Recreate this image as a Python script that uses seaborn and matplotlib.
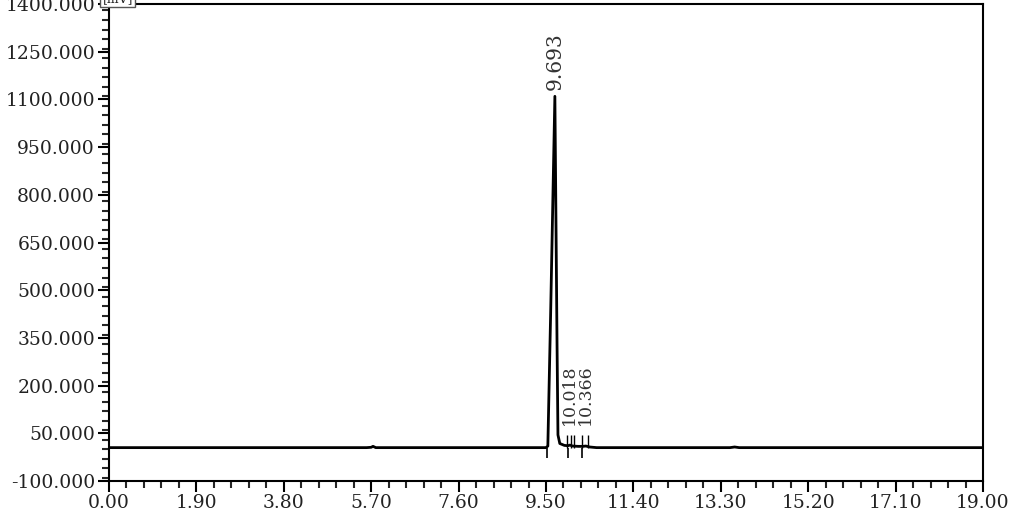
import numpy
import seaborn
import matplotlib
matplotlib.use('Agg')
import matplotlib.pyplot as plt
from matplotlib.ticker import MultipleLocator, FixedLocator
from pandas import DataFrame

# chromatogram trace (min, mV)
trace_time = [0.00, 5.60, 5.70, 5.74, 5.80, 9.50, 9.54, 9.60, 9.693,
              9.74, 9.76, 9.80, 9.90, 9.98, 10.018, 10.08, 10.20,
              10.30, 10.366, 10.45, 10.60, 13.50, 13.60, 13.70, 19.00]
trace_signal = [5, 5, 6, 9, 5, 5, 10, 420, 1110,
                330, 45, 18, 12, 11, 13, 10, 9,
                9, 10, 7, 5, 5, 7, 5, 5]

peak_times = [9.693, 10.018, 10.366]
peak_labels = ['9.693', '10.018', '10.366']
peak_label_base = [1130, 75, 75]
peak_label_size = [14.5, 12.5, 12.5]

drop_marks = [9.52, 9.98, 10.28]
up_marks = [9.96, 10.04, 10.11, 10.28, 10.41]

x_ticks = [0.00, 1.90, 3.80, 5.70, 7.60, 9.50, 11.40, 13.30, 15.20, 17.10, 19.00]
y_ticks = [-100, 50, 200, 350, 500, 650, 800, 950, 1100, 1250, 1400]


def create_plot():
    seaborn.set_style('ticks')
    plt.rcParams['font.family'] = ['DejaVu Serif']

    fig, ax = plt.subplots(figsize=(10.24, 5.15), dpi=100)
    fig.subplots_adjust(left=0.1064, right=0.96, top=0.992, bottom=0.066)

    df = DataFrame({'time': trace_time, 'signal': trace_signal})
    seaborn.lineplot(data=df, x='time', y='signal', color='black',
                     linewidth=2.0, ax=ax, sort=False)

    ax.vlines(drop_marks, -27, 5, color='black', linewidth=1.2)
    ax.vlines(up_marks, 5, 45, color='black', linewidth=1.0)

    for t, lab, base, size in zip(peak_times, peak_labels, peak_label_base,
                                  peak_label_size):
        ax.text(t, base, lab, rotation=90, ha='center', va='bottom',
                fontsize=size, color='#333333')

    ax.set_xlim(0, 19)
    ax.set_ylim(-100, 1400)
    ax.xaxis.set_major_locator(FixedLocator(x_ticks))
    ax.xaxis.set_minor_locator(MultipleLocator(0.38))
    ax.yaxis.set_major_locator(FixedLocator(y_ticks))
    ax.yaxis.set_minor_locator(MultipleLocator(30))
    ax.set_xticklabels(['%.2f' % v for v in x_ticks])
    ax.set_yticklabels(['%.3f' % v for v in y_ticks])
    ax.tick_params(axis='both', which='major', direction='out', length=8,
                   width=1.5, labelsize=13.5, colors='black',
                   labelcolor='#222222')
    ax.tick_params(axis='both', which='minor', direction='out', length=5,
                   width=1.5)
    ax.tick_params(axis='x', pad=1)
    ax.tick_params(axis='y', pad=2)
    for spine in ax.spines.values():
        spine.set_visible(True)
        spine.set_linewidth(1.5)
        spine.set_color('black')
    ax.set_xlabel('')
    ax.set_ylabel('')

    fig.text(0.1, 1.003, '[mV]', fontsize=9, ha='left', va='center',
             bbox=dict(boxstyle='square,pad=0.2', facecolor='white',
                       edgecolor='#555555', linewidth=1))

    fig.savefig('out.png', dpi=100)


if __name__ == '__main__':
    create_plot()
